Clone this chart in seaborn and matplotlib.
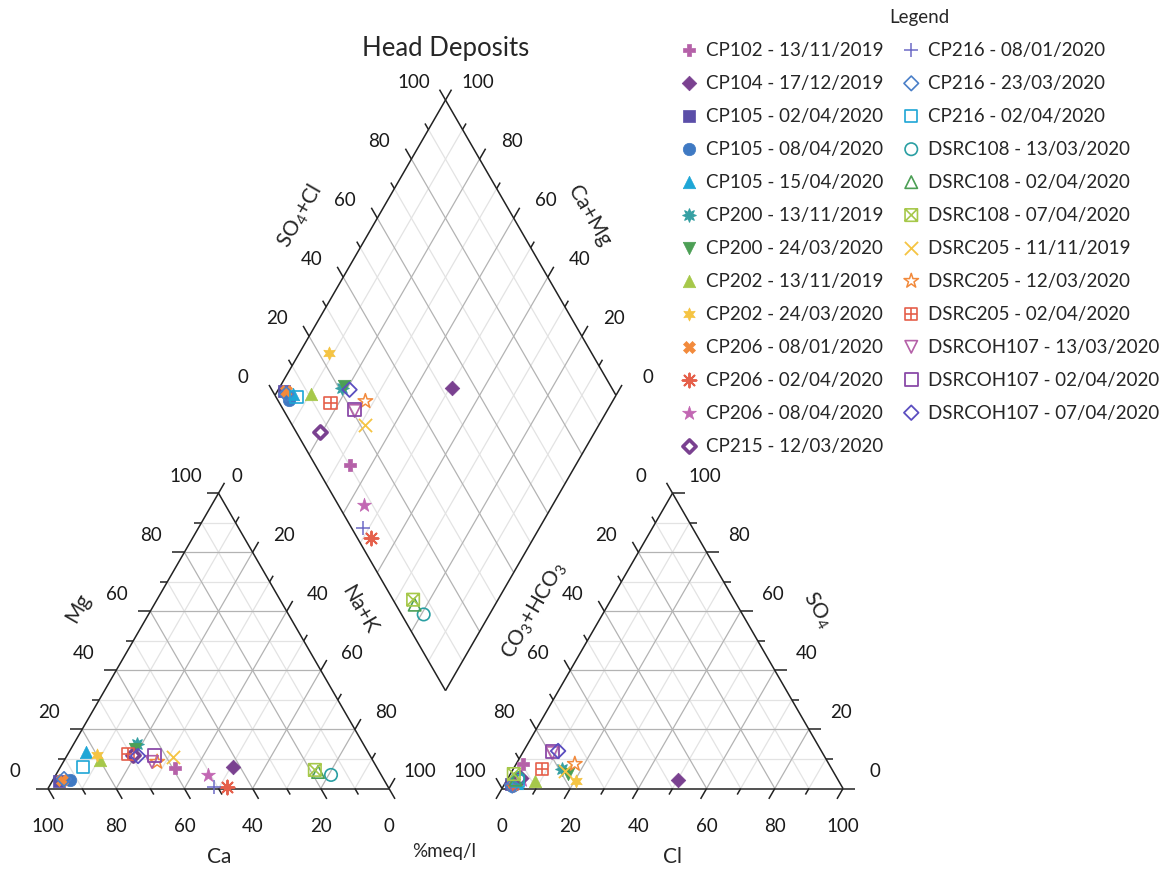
import numpy as np
import pandas as pd
import matplotlib
matplotlib.use("Agg")
import matplotlib.pyplot as plt
from matplotlib.path import Path
import seaborn as sns

# ---------------------------------------------------------------- data
samples = [
    "CP102 - 13/11/2019", "CP104 - 17/12/2019", "CP105 - 02/04/2020",
    "CP105 - 08/04/2020", "CP105 - 15/04/2020", "CP200 - 13/11/2019",
    "CP200 - 24/03/2020", "CP202 - 13/11/2019", "CP202 - 24/03/2020",
    "CP206 - 08/01/2020", "CP206 - 02/04/2020", "CP206 - 08/04/2020",
    "CP215 - 12/03/2020", "CP216 - 08/01/2020", "CP216 - 23/03/2020",
    "CP216 - 02/04/2020", "DSRC108 - 13/03/2020", "DSRC108 - 02/04/2020",
    "DSRC108 - 07/04/2020", "DSRC205 - 11/11/2019", "DSRC205 - 12/03/2020",
    "DSRC205 - 02/04/2020", "DSRCOH107 - 13/03/2020", "DSRCOH107 - 02/04/2020",
    "DSRCOH107 - 07/04/2020",
]

# cations, %meq/l
ca = [59.3, 42.1, 95.5, 92.1, 82.7, 66.4, 67.8, 80.0, 80.0, 94.4, 47.3, 50.8, 69.4,
      51.1, 93.7, 86.1, 14.7, 18.0, 18.6, 58.0, 63.5, 70.7, 65.0, 63.0, 68.1]
mg = [6.9, 7.3, 2.5, 2.9, 12.4, 15.1, 13.4, 9.6, 11.3, 2.9, 0.5, 4.6, 11.3,
      0.5, 3.2, 7.3, 4.6, 5.6, 6.3, 10.7, 9.0, 11.7, 9.0, 11.3, 11.0]
na_k = [33.8, 50.6, 2.0, 5.0, 4.9, 18.5, 18.8, 10.4, 8.7, 2.7, 52.2, 44.6, 19.3,
        48.4, 3.1, 6.6, 80.7, 76.4, 75.1, 31.3, 27.5, 17.6, 26.0, 25.7, 20.9]

# anions, %meq/l
co3_hco3 = [89.8, 46.9, 96.5, 96.5, 94.5, 79.1, 78.2, 89.0, 77.0, 96.0, 96.0, 92.5, 93.0,
            96.5, 96.5, 94.0, 93.5, 94.5, 94.1, 78.6, 74.5, 85.0, 79.3, 79.1, 77.2]
so4 = [8.3, 2.9, 1.5, 1.0, 2.0, 6.6, 4.9, 2.5, 2.5, 1.5, 1.5, 3.0, 3.5,
       1.5, 1.0, 2.5, 3.5, 3.0, 4.9, 5.9, 8.3, 6.6, 12.0, 12.4, 12.7]
cl = [1.9, 50.2, 2.0, 2.5, 3.5, 14.3, 16.9, 8.5, 20.5, 2.5, 2.5, 4.5, 3.5,
      2.0, 2.5, 3.5, 3.0, 2.5, 1.0, 15.5, 17.2, 8.4, 8.7, 8.5, 10.1]

tick_values = [0, 20, 40, 60, 80, 100]

# ---------------------------------------------------------------- marker styles
sq_x = Path([(-1, -1), (1, -1), (1, 1), (-1, 1), (-1, -1), (-1, -1), (1, 1), (-1, 1), (1, -1)],
            [Path.MOVETO, Path.LINETO, Path.LINETO, Path.LINETO, Path.CLOSEPOLY,
             Path.MOVETO, Path.LINETO, Path.MOVETO, Path.LINETO])
sq_plus = Path([(-1, -1), (1, -1), (1, 1), (-1, 1), (-1, -1), (0, -1), (0, 1), (-1, 0), (1, 0)],
               [Path.MOVETO, Path.LINETO, Path.LINETO, Path.LINETO, Path.CLOSEPOLY,
                Path.MOVETO, Path.LINETO, Path.MOVETO, Path.LINETO])

# (marker, colour, fill, size, line width)
styles = [
    ("P", "#b561a8", True, 70, 0.5),
    ("D", "#7a4190", True, 55, 0.5),
    ("s", "#5b4ea8", True, 70, 0.5),
    ("o", "#3f79c3", True, 80, 0.5),
    ("^", "#1ea6d6", True, 80, 0.5),
    ((8, 1, 0), "#36a0a3", True, 95, 0.8),
    ("v", "#4c9f55", True, 80, 0.5),
    ("^", "#a6c84a", True, 80, 0.5),
    ((6, 1, 0), "#f5c443", True, 90, 0.5),
    ("X", "#f28a3c", True, 75, 0.5),
    ((8, 2, 0), "#e5604b", False, 100, 1.4),
    ("*", "#c267b3", True, 110, 0.5),
    ("D", "#7a4190", "dot", 45, 2.6),
    ("+", "#6d6bc6", False, 110, 1.1),
    ("D", "#4a7fc8", False, 55, 1.2),
    ("s", "#1ea6d6", False, 80, 1.2),
    ("o", "#2a9fa3", False, 80, 1.2),
    ("^", "#4c9f55", False, 80, 1.2),
    (sq_x, "#a6c84a", False, 80, 1.2),
    ("x", "#f5c443", False, 90, 1.3),
    ("*", "#f28a3c", False, 120, 1.1),
    (sq_plus, "#e5604b", False, 80, 1.2),
    ("v", "#b561a8", False, 80, 1.2),
    ("s", "#8a4aa8", False, 90, 1.3),
    ("D", "#5b4ec0", False, 55, 1.3),
]

# ---------------------------------------------------------------- geometry
H = np.sqrt(3) / 2
gap = 0.3314                       # space between the two triangles (side = 1)
R0 = 1 + gap                       # left corner of the anion triangle
B = np.array([1 + gap / 2, gap / 2 * np.sqrt(3)])   # bottom of the diamond
L = B + np.array([-0.5, H])
T = B + np.array([0.0, 2 * H])
R = B + np.array([0.5, H])

PX = 341.0                         # pixels per unit side
TICK_MAJ, TICK_MIN = 12 / PX, 7 / PX

sns.set_theme(style="white")
plt.rcParams["font.family"] = ["Lato", "DejaVu Sans"]
plt.rcParams["mathtext.fontset"] = "custom"
plt.rcParams["mathtext.rm"] = "Lato"

fig = plt.figure(figsize=(11.72, 8.70), dpi=100)
ax = fig.add_axes([0, 0, 1, 1])
ax.set_xlim(-48 / PX, (1172 - 48) / PX)
ax.set_ylim((789.5 - 870) / PX, 789.5 / PX)
ax.set_axis_off()

MAJ_C, MIN_C = "#b3b3b3", "#e3e3e3"
EDGE_C = "#222222"


def seg(p, q, **kw):
    ax.plot([p[0], q[0]], [p[1], q[1]], solid_capstyle="butt", **kw)


def grid_style(k):
    return dict(color=MAJ_C if k % 2 == 0 else MIN_C, lw=0.9, zorder=1 if k % 2 else 1.5)


def triangle(a, b, c):
    for k in range(1, 10):
        t = k / 10
        st = grid_style(k)
        seg(a + t * (c - a), b + t * (c - b), **st)     # parallel to base
        seg(a + t * (b - a), c + t * (b - c), **st)     # parallel to left edge
        seg(a + t * (b - a), a + t * (c - a), **st)     # parallel to right edge
    for p, q in ((a, b), (b, c), (c, a)):
        seg(p, q, color=EDGE_C, lw=1.1, zorder=2)


def ticks(p0, p1, direction):
    d = np.array(direction, dtype=float)
    d /= np.linalg.norm(d)
    for k in range(11):
        p = p0 + k / 10 * (p1 - p0)
        ln = TICK_MAJ if k % 2 == 0 else TICK_MIN
        seg(p, p + ln * d, color=EDGE_C, lw=1.1, zorder=2)


def labels(p0, p1, values, offset, size=13.5, first_offset=None):
    for k, v in enumerate(values):
        o = first_offset if (k == 0 and first_offset is not None) else offset
        p = p0 + k / (len(values) - 1) * (p1 - p0) + np.array(o) / PX
        ax.text(p[0], p[1], str(v), ha="center", va="center", fontsize=size, color="#1a1a1a")


# cation triangle
A1, B1, C1 = np.array([0.0, 0.0]), np.array([1.0, 0.0]), np.array([0.5, H])
triangle(A1, B1, C1)
ticks(A1, C1, (-1, 0))
ticks(A1, B1, (0.5, -H))
ticks(C1, B1, (0.5, H))
labels(A1, B1, tick_values[::-1], (0, -37))                 # Ca
labels(A1, C1, tick_values, (-33, 18))                      # Mg
labels(C1, B1, tick_values, (31, 18), first_offset=(18.5, 18))   # Na+K

# anion triangle
A2, B2, C2 = np.array([R0, 0.0]), np.array([R0 + 1, 0.0]), np.array([R0 + 0.5, H])
triangle(A2, B2, C2)
ticks(A2, B2, (-0.5, -H))
ticks(B2, C2, (1, 0))
ticks(A2, C2, (-0.5, H))
labels(A2, B2, tick_values, (0, -37))                       # Cl
labels(B2, C2, tick_values, (32, 18))                       # SO4
labels(A2, C2, tick_values[::-1], (-32, 18))                # CO3+HCO3

# diamond
for k in range(1, 10):
    t = k / 10
    st = grid_style(k)
    seg(L + t * (B - L), T + t * (B - L), **st)
    seg(L + t * (T - L), B + t * (T - L), **st)
for p, q in ((L, B), (B, R), (R, T), (T, L)):
    seg(p, q, color=EDGE_C, lw=1.1, zorder=2)
ticks(L, T, (-0.5, H))
ticks(R, T, (0.5, H))
labels(L, T, tick_values, (-32, 19))                        # SO4+Cl
labels(R, T, tick_values, (32, 19))                         # Ca+Mg

# axis titles
def px(x, y):
    return ((x - 48) / PX, (789.5 - y) / PX)


ax.text(*px(219, 857), "Ca", ha="center", va="center", fontsize=15)
ax.text(*px(78, 608), "Mg", ha="center", va="center", fontsize=15, rotation=60)
ax.text(*px(359, 610), "Na+K", ha="center", va="center", fontsize=15, rotation=-60)
ax.text(*px(444, 852), "%meq/l", ha="center", va="center", fontsize=13.5)
ax.text(*px(673, 857), "Cl", ha="center", va="center", fontsize=15)
ax.text(*px(534, 610), r"CO$_3$+HCO$_3$", ha="center", va="center", fontsize=15, rotation=60)
ax.text(*px(817, 610), r"SO$_4$", ha="center", va="center", fontsize=15, rotation=-60)
ax.text(*px(300, 216), r"SO$_4$+Cl", ha="center", va="center", fontsize=15, rotation=60)
ax.text(*px(589, 216), "Ca+Mg", ha="center", va="center", fontsize=15, rotation=-60)
ax.text(*px(446, 48), "Head Deposits", ha="center", va="center", fontsize=18.5)

# ---------------------------------------------------------------- samples
rows = []
for i, name in enumerate(samples):
    fmg, fna = mg[i] / 100, na_k[i] / 100
    fso4, fcl = so4[i] / 100, cl[i] / 100
    fan = fso4 + fcl
    cat_pt = A1 + np.array([fna + 0.5 * fmg, H * fmg])
    an_pt = A2 + np.array([fcl + 0.5 * fso4, H * fso4])
    dia_pt = L + fna * (B - L) + fan * (T - L)
    for p in (cat_pt, an_pt, dia_pt):
        rows.append({"sample": name, "x": p[0], "y": p[1]})
df = pd.DataFrame(rows)

for i, name in enumerate(samples):
    marker, col, fill, size, lw = styles[i]
    sub = df[df["sample"] == name]
    kw = dict(marker=marker, s=size, linewidth=lw, zorder=3, label=name)
    if fill is True:
        kw.update(color=col, edgecolor=col)
    elif fill == "dot":
        kw.update(color=col, facecolor="white", edgecolor=col)
    elif marker in ("+", "x") or isinstance(marker, tuple):
        kw.update(color=col)
    else:
        kw.update(color=col, facecolor="none", edgecolor=col)
    sns.scatterplot(data=sub, x="x", y="y", ax=ax, legend=False, **kw)

handles, labs = ax.get_legend_handles_labels()
leg = ax.legend(handles, labs, ncol=2, loc="upper left",
                bbox_to_anchor=(670 / 1172, 1 - 0 / 870), bbox_transform=fig.transFigure,
                frameon=False, fontsize=13.5, title="Legend", title_fontsize=13.5,
                handletextpad=0.4, columnspacing=1.0, labelspacing=0.85,
                handlelength=1.0, borderpad=0.0, scatterpoints=1)
ax.set_xlabel("")
ax.set_ylabel("")

fig.savefig("out.png", dpi=100)
